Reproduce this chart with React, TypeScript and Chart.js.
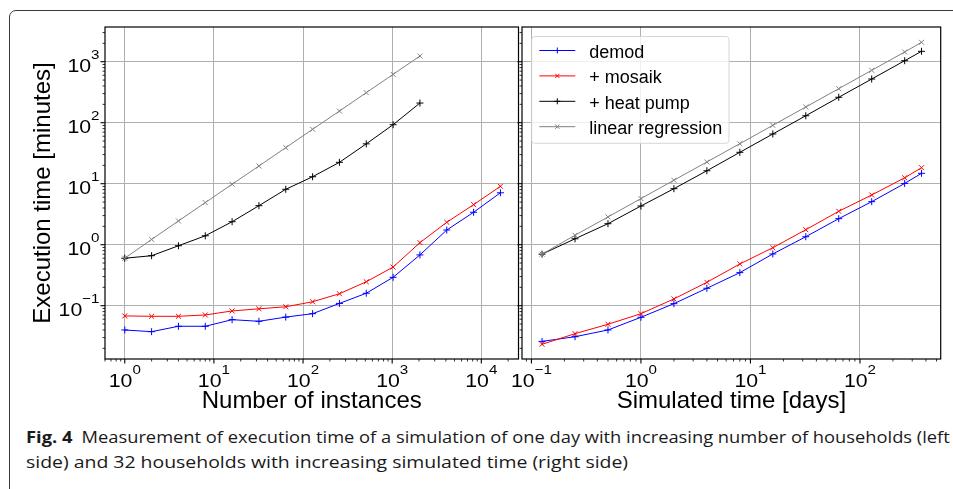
import React, { useEffect, useRef } from 'react';
import { Chart, registerables } from 'chart.js';

Chart.register(...registerables);

// ---------- data ----------
// Left panel: number of instances (one simulated day)
const instances = [1, 2, 4, 8, 16, 32, 64, 128, 256, 512, 1024, 2048, 4096, 8192, 16384];
const instDemod = [0.040, 0.0375, 0.046, 0.046, 0.059, 0.0555, 0.065, 0.074, 0.109, 0.160, 0.292, 0.68, 1.74, 3.4, 7.1];
const instMosaik = [0.068, 0.067, 0.067, 0.0705, 0.082, 0.089, 0.096, 0.116, 0.157, 0.247, 0.43, 1.08, 2.33, 4.53, 9.06];
const instHeatPump = [0.60, 0.66, 0.96, 1.40, 2.38, 4.36, 8.1, 13.0, 22.4, 45, 92.7, 210];
const instLinReg = [0.60, 1.22, 2.45, 4.9, 9.8, 19.5, 39, 78, 155, 311, 620, 1240];

// Right panel: simulated time in days (32 households)
const simDays = [0.125, 0.25, 0.5, 1, 2, 4, 8, 16, 32, 64, 128, 256, 365];
const dayDemod = [0.026, 0.031, 0.040, 0.0645, 0.108, 0.193, 0.348, 0.705, 1.35, 2.67, 5.07, 10.1, 14.8];
const dayMosaik = [0.0233, 0.0348, 0.0496, 0.074, 0.129, 0.242, 0.483, 0.893, 1.76, 3.53, 6.53, 12.5, 18.3];
const dayHeatPump = [0.70, 1.25, 2.21, 4.31, 8.28, 16.3, 32.7, 65.3, 130, 261, 520, 1038, 1480];
const dayLinReg = [0.70, 1.43, 2.85, 5.7, 11.4, 22.7, 45.3, 90.6, 181, 361, 722, 1443, 2080];

const seriesLabels = ['demod', '+ mosaik', '+ heat pump', 'linear regression'];
const seriesColors = ['#0000ff', '#ff0000', '#000000', '#808080'];
const seriesMarkers = ['cross', 'crossRot', 'cross', 'crossRot'];

// axis ranges and tick exponents
const yMin = 0.01337;
const yMax = 3706;
const leftXMin = 0.615;
const leftXMax = 26130;
const rightXMin = 0.082;
const rightXMax = 546;
const yExponents = [-1, 0, 1, 2, 3];
const leftXExponents = [0, 1, 2, 3, 4];
const rightXExponents = [-1, 0, 1, 2];

const xTitleLeft = 'Number of instances';
const xTitleRight = 'Simulated time [days]';
const yTitle = 'Execution time [minutes]';
const captionBold = 'Fig. 4';
const captionLine1 = 'Measurement of execution time of a simulation of one day with increasing number of households (left';
const captionLine2 = 'side) and 32 households with increasing simulated time (right side)';

// ---------- drawing helpers ----------
const FONT = '"Liberation Sans", Arial, Helvetica, sans-serif';
const STRETCH = 1.12;
const BASE_FONT = `19px ${FONT}`;
const SUP_FONT = `13.5px ${FONT}`;

function drawPow(ctx: CanvasRenderingContext2D, exp: number, x: number, y: number, align: 'center' | 'right', supRaise: number) {
  const base = '10';
  const sup = exp < 0 ? '\u2212' + Math.abs(exp) : String(exp);
  ctx.font = BASE_FONT;
  const wb = ctx.measureText(base).width * STRETCH;
  ctx.font = SUP_FONT;
  const ws = ctx.measureText(sup).width * STRETCH;
  const total = wb + ws;
  const x0 = align === 'center' ? x - total / 2 : x - total;
  ctx.save();
  ctx.fillStyle = '#000';
  ctx.textAlign = 'left';
  ctx.textBaseline = 'alphabetic';
  ctx.save();
  ctx.translate(x0, y);
  ctx.scale(STRETCH, 1);
  ctx.font = BASE_FONT;
  ctx.fillText(base, 0, 0);
  ctx.restore();
  ctx.save();
  ctx.translate(x0 + wb, y - supRaise);
  ctx.scale(STRETCH, 1);
  ctx.font = SUP_FONT;
  ctx.fillText(sup, 0, 0);
  ctx.restore();
  ctx.restore();
}

function logTicks(min: number, max: number) {
  const out: { v: number; major: boolean }[] = [];
  for (let e = Math.floor(Math.log10(min)); e <= Math.ceil(Math.log10(max)); e++) {
    for (let m = 1; m <= 9; m++) {
      const v = m * Math.pow(10, e);
      if (v >= min && v <= max) out.push({ v, major: m === 1 });
    }
  }
  return out;
}

const isDecade = (v: number) => {
  const l = Math.log10(v);
  return Math.abs(l - Math.round(l)) < 1e-6;
};

function makeAxesPlugin(xExps: number[], showYLabels: boolean) {
  return {
    id: 'axesDecor',
    afterDatasetsDraw(chart: any) {
      const { ctx, chartArea, scales } = chart;
      const xs = scales.x;
      const ys = scales.y;
      ctx.save();
      // frame
      ctx.strokeStyle = '#000';
      ctx.lineWidth = 1.2;
      ctx.strokeRect(chartArea.left, chartArea.top, chartArea.right - chartArea.left, chartArea.bottom - chartArea.top);
      // x tick marks
      logTicks(xs.min, xs.max).forEach((t) => {
        const px = xs.getPixelForValue(t.v);
        ctx.lineWidth = t.major ? 1.1 : 0.8;
        ctx.beginPath();
        ctx.moveTo(px, chartArea.bottom);
        ctx.lineTo(px, chartArea.bottom + (t.major ? 4.5 : 2.5));
        ctx.stroke();
      });
      // y tick marks
      logTicks(ys.min, ys.max).forEach((t) => {
        const py = ys.getPixelForValue(t.v);
        ctx.lineWidth = t.major ? 1.1 : 0.8;
        ctx.beginPath();
        ctx.moveTo(chartArea.left, py);
        ctx.lineTo(chartArea.left - (t.major ? 4.5 : 2.5), py);
        ctx.stroke();
      });
      ctx.restore();
      // tick labels
      xExps.forEach((e) => {
        const px = xs.getPixelForValue(Math.pow(10, e));
        drawPow(ctx, e, px, chartArea.bottom + 28, 'center', 13);
      });
      if (showYLabels) {
        yExponents.forEach((e) => {
          const py = ys.getPixelForValue(Math.pow(10, e));
          drawPow(ctx, e, chartArea.left - 5.5, py + 10.6, 'right', 13);
        });
      }
    },
  };
}

function drawMarker(ctx: CanvasRenderingContext2D, style: string, x: number, y: number, r: number) {
  ctx.beginPath();
  if (style === 'cross') {
    ctx.moveTo(x - r, y);
    ctx.lineTo(x + r, y);
    ctx.moveTo(x, y - r);
    ctx.lineTo(x, y + r);
  } else {
    const d = r * Math.SQRT1_2;
    ctx.moveTo(x - d, y - d);
    ctx.lineTo(x + d, y + d);
    ctx.moveTo(x - d, y + d);
    ctx.lineTo(x + d, y - d);
  }
  ctx.stroke();
}

const legendPlugin = {
  id: 'insideLegend',
  afterDraw(chart: any) {
    const { ctx, chartArea } = chart;
    const bx = chartArea.left + 9.7;
    const by = chartArea.top + 9.5;
    const bw = 197.3;
    const bh = 106.8;
    const r = 3;
    ctx.save();
    ctx.beginPath();
    ctx.moveTo(bx + r, by);
    ctx.lineTo(bx + bw - r, by);
    ctx.quadraticCurveTo(bx + bw, by, bx + bw, by + r);
    ctx.lineTo(bx + bw, by + bh - r);
    ctx.quadraticCurveTo(bx + bw, by + bh, bx + bw - r, by + bh);
    ctx.lineTo(bx + r, by + bh);
    ctx.quadraticCurveTo(bx, by + bh, bx, by + bh - r);
    ctx.lineTo(bx, by + r);
    ctx.quadraticCurveTo(bx, by, bx + r, by);
    ctx.closePath();
    ctx.fillStyle = 'rgba(255,255,255,0.8)';
    ctx.fill();
    ctx.strokeStyle = 'rgba(204,204,204,0.8)';
    ctx.lineWidth = 1;
    ctx.stroke();
    chart.data.datasets.forEach((ds: any, i: number) => {
      const ly = by + 14 + i * 25.4;
      const x1 = bx + 7.6;
      const x2 = x1 + 36;
      ctx.strokeStyle = ds.borderColor;
      ctx.lineWidth = 1;
      ctx.beginPath();
      ctx.moveTo(x1, ly);
      ctx.lineTo(x2, ly);
      ctx.stroke();
      drawMarker(ctx, ds.pointStyle, (x1 + x2) / 2, ly, 3);
      ctx.fillStyle = '#000';
      ctx.font = `18px ${FONT}`;
      ctx.textAlign = 'left';
      ctx.textBaseline = 'alphabetic';
      ctx.fillText(ds.label, bx + 57.6, ly + 7.3);
    });
    ctx.restore();
  },
};

function buildConfig(isLeft: boolean): any {
  const xs = isLeft ? instances : simDays;
  const series = isLeft ? [instDemod, instMosaik, instHeatPump, instLinReg] : [dayDemod, dayMosaik, dayHeatPump, dayLinReg];
  const datasets = series.map((ys, i) => ({
    label: seriesLabels[i],
    data: ys.map((y, j) => ({ x: xs[j], y })),
    borderColor: seriesColors[i],
    backgroundColor: seriesColors[i],
    pointBorderColor: seriesColors[i],
    borderWidth: 1,
    pointStyle: seriesMarkers[i],
    pointRadius: 3.5,
    pointBorderWidth: 1,
    pointHoverRadius: 3.5,
    tension: 0,
    fill: false,
    order: 3 - i,
  }));
  const gridColor = (c: any) => (c.tick && isDecade(c.tick.value) ? '#b0b0b0' : 'rgba(0,0,0,0)');
  return {
    type: 'line',
    data: { datasets },
    options: {
      animation: false,
      responsive: false,
      devicePixelRatio: 1,
      events: [],
      layout: { padding: { left: 0, top: 27, right: isLeft ? 1 : 12.3, bottom: 0 } },
      plugins: { legend: { display: false }, tooltip: { enabled: false }, title: { display: false } },
      scales: {
        x: {
          type: 'logarithmic',
          min: isLeft ? leftXMin : rightXMin,
          max: isLeft ? leftXMax : rightXMax,
          ticks: { display: false },
          grid: { color: gridColor, lineWidth: 1, drawTicks: false },
          border: { display: false },
          title: {
            display: true,
            text: isLeft ? xTitleLeft : xTitleRight,
            color: '#000',
            font: { family: FONT, size: 24 },
            padding: { top: 0, bottom: 4 },
          },
          afterFit: (s: any) => {
            s.height = 61;
          },
        },
        y: {
          type: 'logarithmic',
          min: yMin,
          max: yMax,
          ticks: { display: false },
          grid: { color: gridColor, lineWidth: 1, drawTicks: false },
          border: { display: false },
          title: {
            display: isLeft,
            text: yTitle,
            color: '#000',
            font: { family: FONT, size: 24 },
            padding: { top: 28.9, bottom: 0 },
          },
          afterFit: (s: any) => {
            s.width = isLeft ? 105 : 22;
          },
        },
      },
    },
    plugins: isLeft ? [makeAxesPlugin(leftXExponents, true)] : [makeAxesPlugin(rightXExponents, false), legendPlugin],
  };
}

export default function App() {
  const leftRef = useRef<HTMLCanvasElement>(null);
  const rightRef = useRef<HTMLCanvasElement>(null);
  const cap1 = useRef<HTMLDivElement>(null);
  const cap2 = useRef<HTMLDivElement>(null);

  useEffect(() => {
    const left = new Chart(leftRef.current as HTMLCanvasElement, buildConfig(true));
    const right = new Chart(rightRef.current as HTMLCanvasElement, buildConfig(false));
    const fit = () => {
      const pairs: [HTMLDivElement | null, number][] = [
        [cap1.current, 924],
        [cap2.current, 602],
      ];
      pairs.forEach(([el, target]) => {
        if (!el) return;
        el.style.transform = 'none';
        const w = el.offsetWidth;
        if (w > 0) el.style.transform = `scaleX(${target / w})`;
      });
    };
    fit();
    if ((document as any).fonts && (document as any).fonts.ready) (document as any).fonts.ready.then(fit);
    return () => {
      left.destroy();
      right.destroy();
    };
  }, []);

  const capStyle: React.CSSProperties = {
    position: 'absolute',
    left: 26,
    whiteSpace: 'nowrap',
    display: 'inline-block',
    transformOrigin: 'left center',
    fontFamily: '"Open Sans", "Noto Sans", sans-serif',
    fontSize: 16,
    lineHeight: '16px',
    color: '#1a1a1a',
  };

  return (
    <div style={{ position: 'absolute', left: 0, top: 0, width: 953, height: 489, overflow: 'hidden', background: '#fff' }}>
      <div
        style={{
          position: 'absolute',
          left: 9,
          top: 10,
          width: 1000,
          height: 600,
          border: '1.5px solid #3a3a3a',
          borderRadius: 7,
          boxSizing: 'border-box',
        }}
      />
      <canvas ref={leftRef} width={523} height={420} style={{ position: 'absolute', left: 0, top: 0, width: 523, height: 420 }} />
      <canvas ref={rightRef} width={453} height={420} style={{ position: 'absolute', left: 500, top: 0, width: 453, height: 420 }} />
      <div ref={cap1} style={{ ...capStyle, top: 429 }}>
        <b>{captionBold}</b>
        {'\u2002'}
        {captionLine1}
      </div>
      <div ref={cap2} style={{ ...capStyle, top: 454 }}>
        {captionLine2}
      </div>
    </div>
  );
}
